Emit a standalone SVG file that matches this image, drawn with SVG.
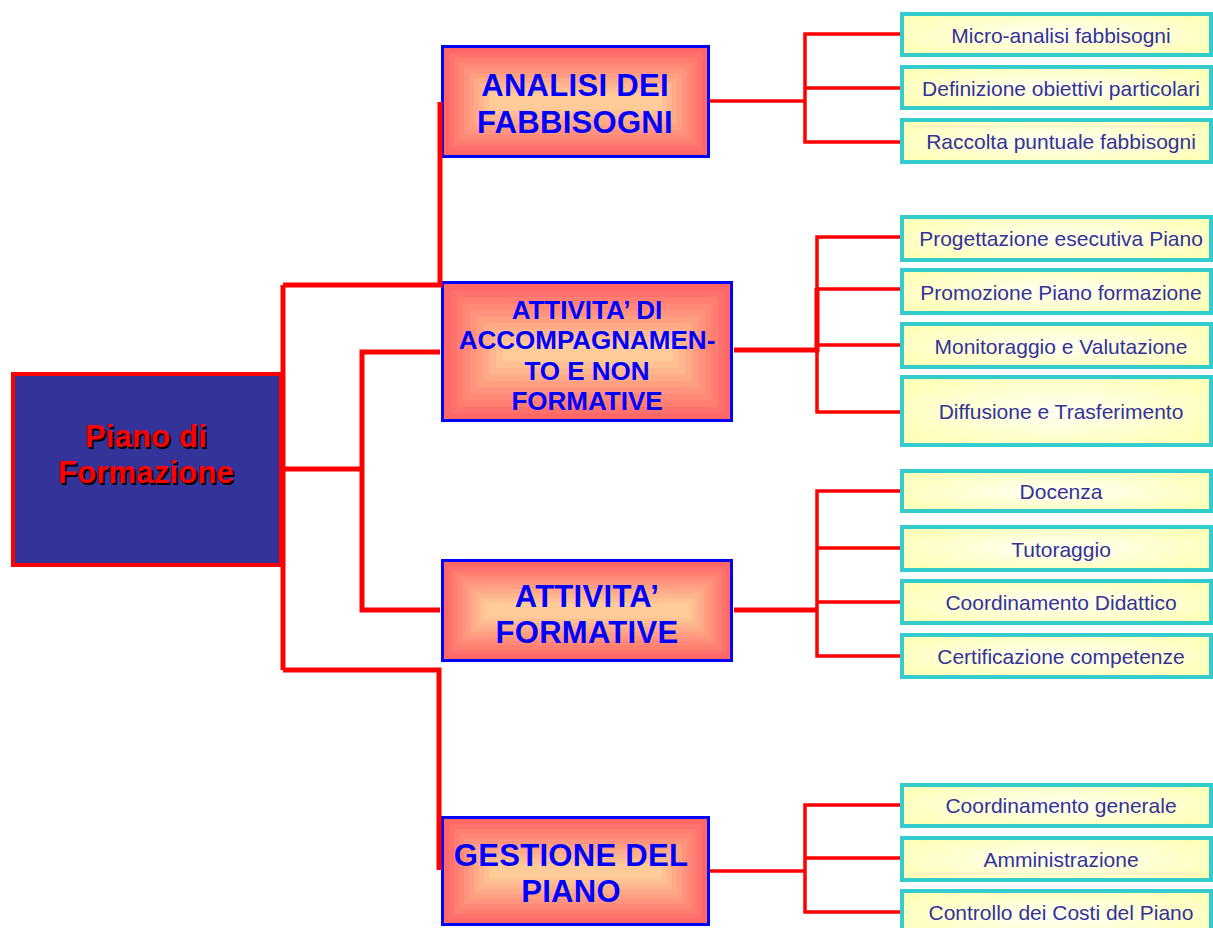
<svg xmlns="http://www.w3.org/2000/svg" width="1213" height="928" viewBox="0 0 1213 928">
<style>
.bold{font-family:"Liberation Sans",Arial,sans-serif;font-weight:bold;text-anchor:middle}
.l1{font-size:31px;fill:#0000FF;letter-spacing:0.3px}
.l1s{font-size:26px;fill:#0000FF}
.root{font-size:31px;letter-spacing:0.2px}
.leaf rect{fill:url(#leafGrad);stroke:#33CCCC;stroke-width:4}
.leaf text{font-family:"Liberation Sans",Arial,sans-serif;font-size:21px;fill:#333399;text-anchor:middle}
.frame{fill:none;stroke:#0000FF;stroke-width:3}
.c0{fill:#FF6666}.c1{fill:#FF716C}.c2{fill:#FF7D71}.c3{fill:#FF8877}.c4{fill:#FF937D}
.c5{fill:#FF9F82}.c6{fill:#FFAA88}.c7{fill:#FFB58E}.c8{fill:#FFC193}.c9{fill:#FFCC99}
.main{fill:none;stroke:#FF0000;stroke-width:5;stroke-linejoin:miter}
.sub{fill:none;stroke:#FF0000;stroke-width:3.5;stroke-linejoin:miter}
</style>
<defs>
<radialGradient id="leafGrad" cx="50%" cy="50%" r="60%">
<stop offset="0" stop-color="#FFFFF4"/>
<stop offset="1" stop-color="#FFFFB8"/>
</radialGradient>
</defs>
<rect width="1213" height="928" fill="#FFFFFF"/>

<g id="root">
<rect x="13" y="374" width="268" height="191" fill="#333399" stroke="#FF0000" stroke-width="4"/>
<text class="bold root" fill="#000000" x="148" y="449">Piano di</text>
<text class="bold root" fill="#000000" x="148" y="485">Formazione</text>
<text class="bold root" fill="#FF0000" x="146" y="447">Piano di</text>
<text class="bold root" fill="#FF0000" x="146" y="483">Formazione</text>
</g>

<g id="analisi">
<rect class="c0" x="444" y="48" width="263" height="107"/>
<rect class="c1" x="449" y="53" width="253" height="97"/>
<rect class="c2" x="454" y="58" width="243" height="87"/>
<rect class="c3" x="459" y="63" width="233" height="77"/>
<rect class="c4" x="464" y="68" width="223" height="67"/>
<rect class="c5" x="469" y="73" width="213" height="57"/>
<rect class="c6" x="474" y="78" width="203" height="47"/>
<rect class="c7" x="479" y="83" width="193" height="37"/>
<rect class="c8" x="484" y="88" width="183" height="27"/>
<rect class="c9" x="489" y="93" width="173" height="17"/>
<rect class="frame" x="442.5" y="46.5" width="266" height="110"/>
<text class="bold l1" x="575" y="96">ANALISI DEI</text>
<text class="bold l1" x="575" y="133">FABBISOGNI</text>
</g>

<g id="accompagnamento">
<rect class="c0" x="444" y="284" width="287" height="136"/>
<rect class="c1" x="450.5" y="290.5" width="274" height="123"/>
<rect class="c2" x="457" y="297" width="261" height="110"/>
<rect class="c3" x="463.5" y="303.5" width="248" height="97"/>
<rect class="c4" x="470" y="310" width="235" height="84"/>
<rect class="c5" x="476.5" y="316.5" width="222" height="71"/>
<rect class="c6" x="483" y="323" width="209" height="58"/>
<rect class="c7" x="489.5" y="329.5" width="196" height="45"/>
<rect class="c8" x="496" y="336" width="183" height="32"/>
<rect class="c9" x="502.5" y="342.5" width="170" height="19"/>
<rect class="frame" x="442.5" y="282.5" width="289" height="138"/>
<text class="bold l1s" x="587" y="319">ATTIVITA’ DI</text>
<text class="bold l1s" x="587" y="349">ACCOMPAGNAMEN-</text>
<text class="bold l1s" x="587" y="380">TO E NON</text>
<text class="bold l1s" x="587" y="410">FORMATIVE</text>
</g>

<g id="formative">
<rect class="c0" x="444" y="562" width="287" height="97"/>
<rect class="c1" x="448.5" y="566.5" width="278" height="88"/>
<rect class="c2" x="453" y="571" width="269" height="79"/>
<rect class="c3" x="457.5" y="575.5" width="260" height="70"/>
<rect class="c4" x="462" y="580" width="251" height="61"/>
<rect class="c5" x="466.5" y="584.5" width="242" height="52"/>
<rect class="c6" x="471" y="589" width="233" height="43"/>
<rect class="c7" x="475.5" y="593.5" width="224" height="34"/>
<rect class="c8" x="480" y="598" width="215" height="25"/>
<rect class="c9" x="484.5" y="602.5" width="206" height="16"/>
<rect class="frame" x="442.5" y="560.5" width="289" height="100"/>
<text class="bold l1" x="587" y="607">ATTIVITA’</text>
<text class="bold l1" x="587" y="643">FORMATIVE</text>
</g>

<g id="gestione">
<rect class="c0" x="444" y="819" width="263" height="105"/>
<rect class="c1" x="449" y="824" width="253" height="95"/>
<rect class="c2" x="454" y="829" width="243" height="85"/>
<rect class="c3" x="459" y="834" width="233" height="75"/>
<rect class="c4" x="464" y="839" width="223" height="65"/>
<rect class="c5" x="469" y="844" width="213" height="55"/>
<rect class="c6" x="474" y="849" width="203" height="45"/>
<rect class="c7" x="479" y="854" width="193" height="35"/>
<rect class="c8" x="484" y="859" width="183" height="25"/>
<rect class="c9" x="489" y="864" width="173" height="15"/>
<rect class="frame" x="442.5" y="817.5" width="266" height="107"/>
<text class="bold l1" x="571" y="866">GESTIONE DEL</text>
<text class="bold l1" x="571" y="902">PIANO</text>
</g>

<g id="connectors">
<path class="main" d="M283,285 V670"/>
<path class="main" d="M283,285 H440 V102"/>
<path class="main" d="M283,469 H362"/>
<path class="main" d="M440,352 H362 V610 H440"/>
<path class="main" d="M283,670 H439 V870"/>
<path class="sub" d="M710,101 H805"/>
<path class="sub" d="M900,34 H805 V142 H900 M805,88 H900"/>
<path class="main" d="M734,350 H817 V288"/>
<path class="sub" d="M900,237 H817 V412 H900 M817,289 H900 M817,345 H900"/>
<path class="main" d="M734,610 H817"/>
<path class="sub" d="M900,491 H817 V656 H900 M817,548 H900 M817,602 H900"/>
<path class="sub" d="M710,871 H805"/>
<path class="sub" d="M900,805 H805 V912 H900 M805,858 H900"/>
</g>

<g id="leaf-micro" class="leaf"><rect x="902" y="14" width="309" height="41"/><text x="1061" y="43">Micro-analisi fabbisogni</text></g>
<g id="leaf-definizione" class="leaf"><rect x="902" y="67" width="309" height="41"/><text x="1061" y="96">Definizione obiettivi particolari</text></g>
<g id="leaf-raccolta" class="leaf"><rect x="902" y="120" width="309" height="42"/><text x="1061" y="149">Raccolta puntuale fabbisogni</text></g>

<g id="leaf-progettazione" class="leaf"><rect x="902" y="217" width="309" height="43"/><text x="1061" y="246">Progettazione esecutiva Piano</text></g>
<g id="leaf-promozione" class="leaf"><rect x="902" y="270" width="309" height="43"/><text x="1061" y="300">Promozione Piano formazione</text></g>
<g id="leaf-monitoraggio" class="leaf"><rect x="902" y="324" width="309" height="43"/><text x="1061" y="354">Monitoraggio e Valutazione</text></g>
<g id="leaf-diffusione" class="leaf"><rect x="902" y="377" width="309" height="68"/><text x="1061" y="419">Diffusione e Trasferimento</text></g>

<g id="leaf-docenza" class="leaf"><rect x="902" y="471" width="309" height="40"/><text x="1061" y="499">Docenza</text></g>
<g id="leaf-tutoraggio" class="leaf"><rect x="902" y="527" width="309" height="43"/><text x="1061" y="557">Tutoraggio</text></g>
<g id="leaf-coord-didattico" class="leaf"><rect x="902" y="581" width="309" height="42"/><text x="1061" y="610">Coordinamento Didattico</text></g>
<g id="leaf-certificazione" class="leaf"><rect x="902" y="635" width="309" height="42"/><text x="1061" y="664">Certificazione competenze</text></g>

<g id="leaf-coord-generale" class="leaf"><rect x="902" y="785" width="309" height="41"/><text x="1061" y="813">Coordinamento generale</text></g>
<g id="leaf-amministrazione" class="leaf"><rect x="902" y="838" width="309" height="42"/><text x="1061" y="867">Amministrazione</text></g>
<g id="leaf-controllo" class="leaf"><rect x="902" y="891" width="309" height="50"/><text x="1061" y="920">Controllo dei Costi del Piano</text></g>
</svg>
